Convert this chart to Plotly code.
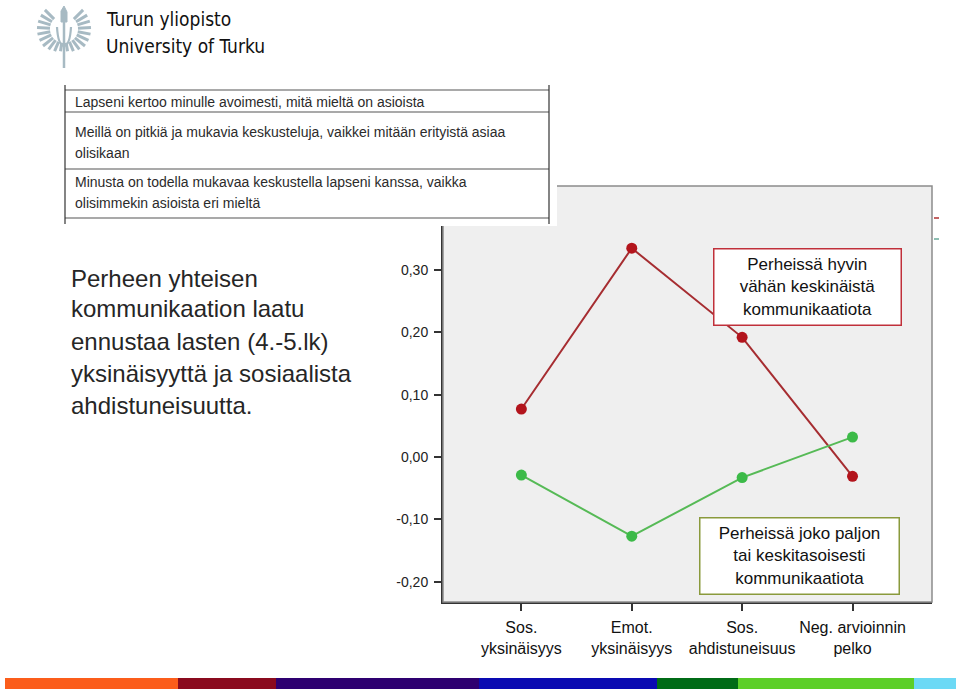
import math
import plotly.graph_objects as go

# --- data ---
categories = ["Sos.<br>yksinäisyys", "Emot.<br>yksinäisyys",
              "Sos.<br>ahdistuneisuus", "Neg. arvioinnin<br>pelko"]
low_comm = [0.077, 0.335, 0.192, -0.031]      # hyvin vähän kommunikaatiota
high_comm = [-0.029, -0.127, -0.033, 0.032]   # paljon / keskitasoisesti
ytick_vals = [-0.2, -0.1, 0.0, 0.1, 0.2, 0.3]
ytick_text = ["-0,20", "-0,10", "0,00", "0,10", "0,20", "0,30"]

title_lines = ["Perheen yhteisen", "kommunikaation laatu", "ennustaa lasten (4.-5.lk)",
               "yksinäisyyttä ja sosiaalista", "ahdistuneisuutta."]
table_lines = ["Lapseni kertoo minulle avoimesti, mitä mieltä on asioista",
               "Meillä on pitkiä ja mukavia keskusteluja, vaikkei mitään erityistä asiaa",
               "olisikaan",
               "Minusta on todella mukavaa keskustella lapseni kanssa, vaikka",
               "olisimmekin asioista eri mieltä"]
stripe_colors = ["#fb5d1b", "#8a0a1e", "#2e0070", "#0a0ab2", "#006b16", "#5ccf28", "#6cd9f5"]
stripe_edges = [5, 178, 276, 479, 657, 738, 914, 956]

W, H = 960, 691


def px(x):
    return x / W


def py(y):
    return 1 - y / H


FONT = "Liberation Sans, Arial, sans-serif"
RED_LINE, RED_MARK = "#a62d31", "#b3141c"
GREEN_LINE, GREEN_MARK = "#56ba56", "#3cba48"

fig = go.Figure()
fig.add_trace(go.Scatter(x=categories, y=low_comm, mode="lines+markers",
                         line=dict(color=RED_LINE, width=2),
                         marker=dict(color=RED_MARK, size=11), showlegend=False))
fig.add_trace(go.Scatter(x=categories, y=high_comm, mode="lines+markers",
                         line=dict(color=GREEN_LINE, width=2),
                         marker=dict(color=GREEN_MARK, size=11), showlegend=False))

shapes = []
# light grey frame on top/right of the plot panel
shapes.append(dict(type="rect", xref="paper", yref="paper", layer="above",
                   x0=px(443), x1=px(932), y0=py(602), y1=py(186),
                   line=dict(color="#8c8c8c", width=1.5)))
# pasted table image (white box with rules)
shapes.append(dict(type="rect", xref="paper", yref="paper", layer="above",
                   x0=px(58), x1=px(557), y0=py(226), y1=py(84),
                   fillcolor="white", line=dict(width=0)))
for yy in [90, 112, 169, 218]:
    shapes.append(dict(type="line", xref="paper", yref="paper", layer="above",
                       x0=px(65), x1=px(549), y0=py(yy), y1=py(yy),
                       line=dict(color="#555", width=1.2)))
for xx in [65, 549]:
    shapes.append(dict(type="line", xref="paper", yref="paper", layer="above",
                       x0=px(xx), x1=px(xx), y0=py(224), y1=py(85),
                       line=dict(color="#333", width=1.2)))
# cut legend remnants on the right
shapes.append(dict(type="line", xref="paper", yref="paper", x0=px(934), x1=px(939),
                   y0=py(218), y1=py(218), line=dict(color="#b03030", width=1.5)))
shapes.append(dict(type="line", xref="paper", yref="paper", x0=px(934), x1=px(939),
                   y0=py(239), y1=py(239), line=dict(color="#6aaa9a", width=1.5)))
# colour stripe at the bottom
for i, c in enumerate(stripe_colors):
    shapes.append(dict(type="rect", xref="paper", yref="paper",
                       x0=px(stripe_edges[i]), x1=px(stripe_edges[i + 1]),
                       y0=py(689), y1=py(678), fillcolor=c, line=dict(width=0)))

# university emblem (rough sketch): two feathered wings round a torch
LOGO = "#a7bac3"
cx, cy = 64, 29
for k in range(10):
    a = math.radians(135 + k * 14)
    ca, sa = math.cos(a), math.sin(a)
    r0, r1 = 14, 27 - max(0, k - 6) * 1.5
    for side in (1, -1):
        shapes.append(dict(type="line", xref="paper", yref="paper",
                           x0=px(cx + side * ca * r0), y0=py(cy - sa * r0),
                           x1=px(cx + side * ca * r1), y1=py(cy - sa * r1),
                           line=dict(color=LOGO, width=3)))
shapes.append(dict(type="line", xref="paper", yref="paper", x0=px(cx), x1=px(cx),
                   y0=py(20), y1=py(68), line=dict(color=LOGO, width=2.5)))
shapes.append(dict(type="path", xref="paper", yref="paper",
                   path=f"M {px(cx - 7)} {py(27)} Q {px(cx - 6)} {py(45)} {px(cx)} {py(46)} "
                        f"Q {px(cx + 6)} {py(45)} {px(cx + 7)} {py(27)}",
                   line=dict(color=LOGO, width=2.2)))
shapes.append(dict(type="path", xref="paper", yref="paper",
                   path=f"M {px(cx - 3)} {py(22)} L {px(cx - 3)} {py(11)} L {px(cx)} {py(6)} "
                        f"L {px(cx + 3)} {py(12)} L {px(cx + 3)} {py(22)} Z",
                   fillcolor=LOGO, line=dict(color=LOGO, width=1)))

annotations = []
# logo text
for txt, yy in [("Turun yliopisto", 19), ("University of Turku", 46)]:
    annotations.append(dict(text=txt, xref="paper", yref="paper", x=px(104), y=py(yy),
                            xanchor="left", yanchor="middle", showarrow=False,
                            font=dict(family="DejaVu Sans Condensed, Liberation Sans Narrow, Roboto",
                                      size=19, color="#111")))
# left-side headline
for txt, yy in zip(title_lines, [278, 309, 341, 373, 405]):
    annotations.append(dict(text=txt, xref="paper", yref="paper", x=px(69), y=py(yy),
                            xanchor="left", yanchor="middle", showarrow=False,
                            font=dict(family=FONT, size=24, color="#262626")))
# table text
for txt, yy in zip(table_lines, [102, 132, 153, 182, 203]):
    annotations.append(dict(text=txt, xref="paper", yref="paper", x=px(73), y=py(yy),
                            xanchor="left", yanchor="middle", showarrow=False, align="left",
                            font=dict(family=FONT, size=14, color="#2b2b2b")))
# group labels
annotations.append(dict(text="Perheissä hyvin<br>vähän keskinäistä<br>kommunikaatiota",
                        xref="paper", yref="paper", x=px(807), y=py(286.5),
                        xanchor="center", yanchor="middle", showarrow=False,
                        width=184, height=73, borderpad=1, bgcolor="white",
                        bordercolor="#c0303a", borderwidth=1.5,
                        font=dict(family=FONT, size=17, color="#111")))
annotations.append(dict(text="Perheissä joko paljon<br>tai keskitasoisesti<br>kommunikaatiota",
                        xref="paper", yref="paper", x=px(799), y=py(555.5),
                        xanchor="center", yanchor="middle", showarrow=False,
                        width=196, height=73, borderpad=1, bgcolor="white",
                        bordercolor="#8a9a3c", borderwidth=1.5,
                        font=dict(family=FONT, size=17, color="#111")))

fig.update_layout(
    width=W, height=H,
    margin=dict(l=0, r=0, t=0, b=0),
    paper_bgcolor="white",
    plot_bgcolor="#efefef",
    showlegend=False,
    shapes=shapes,
    annotations=annotations,
    xaxis=dict(domain=[px(443), px(932)], type="category", range=[-0.71, 3.72],
               showgrid=False, zeroline=False, showline=True, linecolor="#333", linewidth=2,
               ticks="outside", ticklen=7, tickwidth=1.5, tickcolor="#333",
               ticklabelstandoff=3,
               tickfont=dict(family=FONT, size=16, color="#111")),
    yaxis=dict(domain=[py(602), py(186)], range=[-0.2326, 0.4348],
               tickvals=ytick_vals, ticktext=ytick_text,
               showgrid=False, zeroline=False, showline=True, linecolor="#333", linewidth=2,
               ticks="outside", ticklen=7, tickwidth=1.5, tickcolor="#333",
               ticklabelstandoff=3,
               tickfont=dict(family=FONT, size=14, color="#222")),
)

# page body has an 8px default margin; drop it so the slide fills the window
fig.write_html("out.html", config={"displayModeBar": False},
               post_script="document.body.style.margin='0';")
